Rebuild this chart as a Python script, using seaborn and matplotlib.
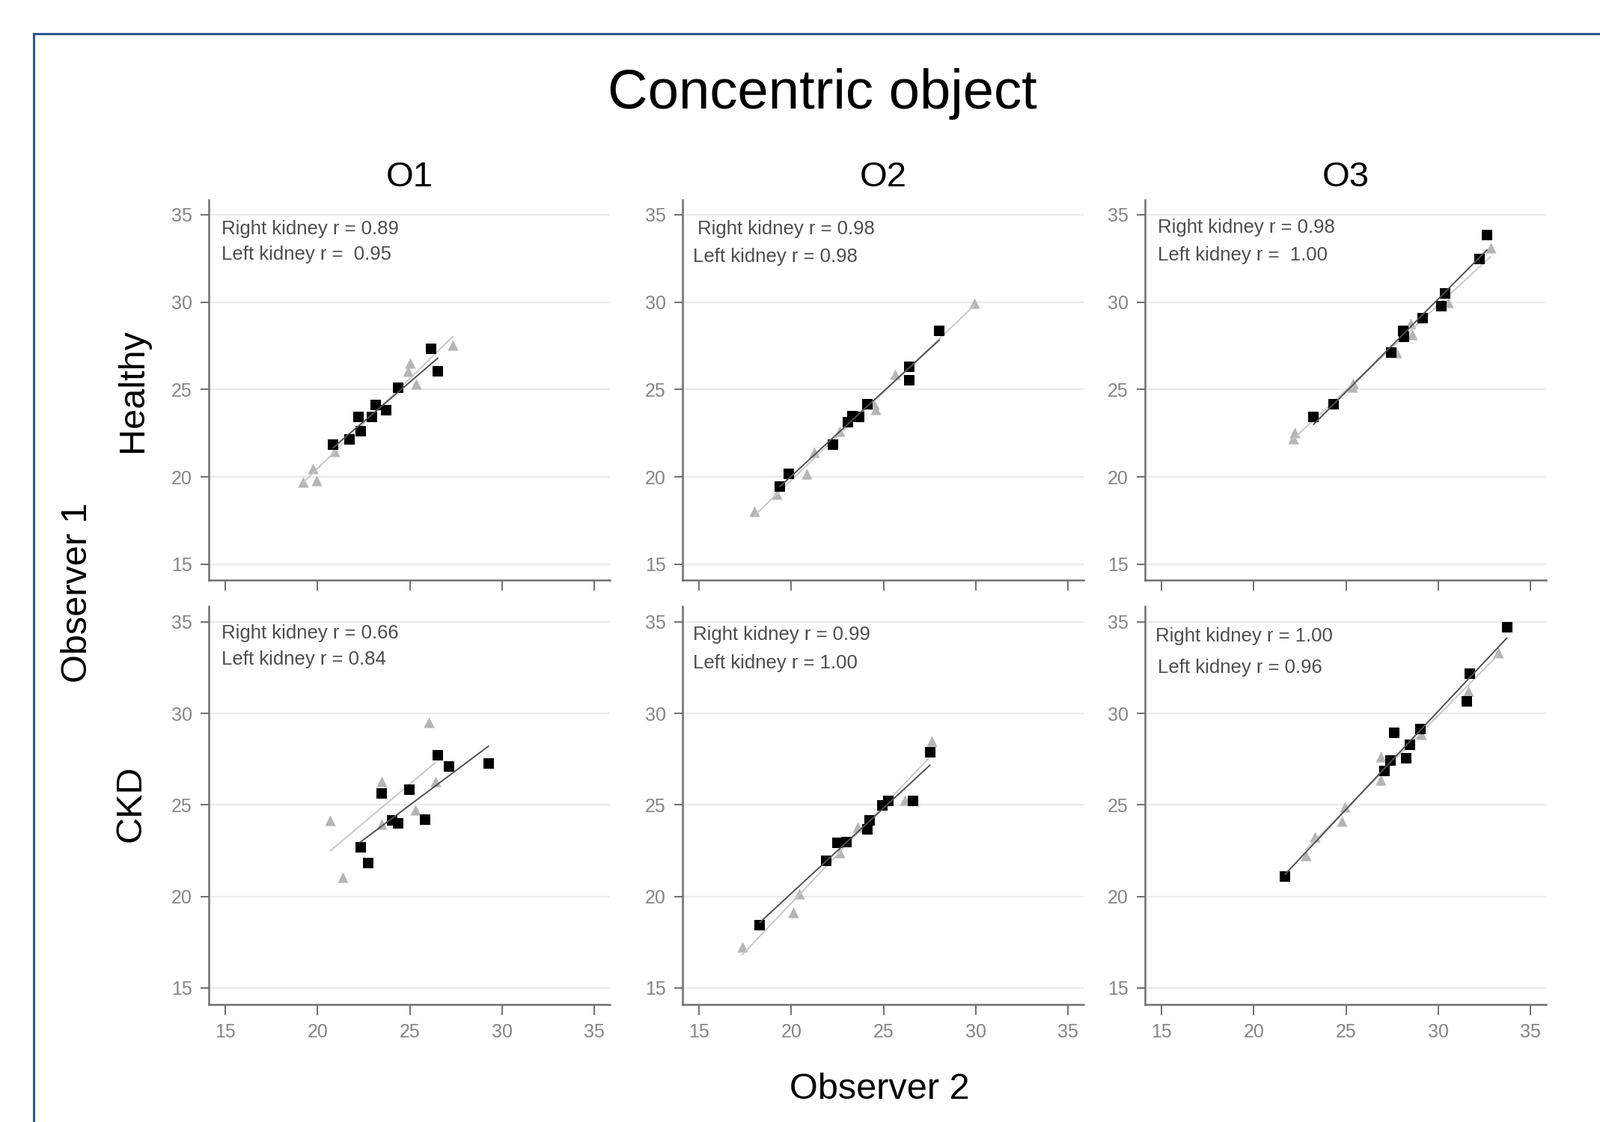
import matplotlib
matplotlib.use("Agg")
import matplotlib.pyplot as plt
import matplotlib.patches as mpatches
import seaborn as sns

# --- data: x = Observer 2, y = Observer 1 ---
# squares = right kidney (black), triangles = left kidney (grey)
GROUPS = ["Healthy", "CKD"]
OBSERVERS = ["O1", "O2", "O3"]

H1_RIGHT_X = [20.83, 21.74, 22.21, 22.32, 22.96, 23.15, 23.73, 24.35, 26.17, 26.52]
H1_RIGHT_Y = [21.83, 22.15, 23.42, 22.60, 23.42, 24.10, 23.83, 25.09, 27.33, 26.03]
H1_LEFT_X = [19.23, 19.74, 19.93, 20.90, 24.89, 25.00, 25.33, 27.33]
H1_LEFT_Y = [19.73, 20.46, 19.80, 21.47, 26.03, 26.53, 25.30, 27.55]

H2_RIGHT_X = [19.38, 19.87, 22.25, 23.07, 23.33, 23.67, 24.11, 26.39, 26.39, 28.02]
H2_RIGHT_Y = [19.44, 20.17, 21.86, 23.13, 23.49, 23.42, 24.18, 26.32, 25.52, 28.34]
H2_LEFT_X = [18.01, 19.22, 20.85, 21.24, 22.63, 24.57, 24.50, 25.61, 29.93]
H2_LEFT_Y = [18.04, 19.01, 20.17, 21.40, 22.63, 23.86, 24.15, 25.88, 29.93]

H3_RIGHT_X = [23.24, 24.33, 27.43, 28.09, 28.12, 29.16, 30.17, 30.36, 32.25, 32.65]
H3_RIGHT_Y = [23.42, 24.18, 27.11, 28.34, 28.02, 29.07, 29.79, 30.48, 32.47, 33.84]
H3_LEFT_X = [22.12, 22.20, 25.32, 25.40, 27.72, 28.52, 28.60, 30.52, 32.84]
H3_LEFT_Y = [22.19, 22.55, 25.16, 25.38, 27.11, 28.78, 28.13, 30.00, 33.12]

C1_RIGHT_X = [22.32, 22.74, 23.47, 24.06, 24.35, 24.96, 25.83, 26.52, 27.14, 29.27]
C1_RIGHT_Y = [22.67, 21.83, 25.63, 24.17, 24.01, 25.83, 24.20, 27.70, 27.11, 27.27]
C1_LEFT_X = [20.69, 21.38, 23.47, 23.47, 25.28, 26.05, 26.41]
C1_LEFT_Y = [24.17, 21.03, 26.30, 23.96, 24.74, 29.50, 26.30]

C2_RIGHT_X = [18.29, 21.90, 22.48, 22.98, 24.11, 24.23, 24.93, 25.27, 26.59, 27.52]
C2_RIGHT_Y = [18.43, 21.94, 22.95, 22.98, 23.65, 24.17, 24.98, 25.21, 25.21, 27.86]
C2_LEFT_X = [17.33, 20.12, 20.43, 22.63, 23.60, 26.17, 27.60]
C2_LEFT_Y = [17.26, 19.13, 20.14, 22.40, 23.80, 25.26, 28.48]

C3_RIGHT_X = [21.69, 27.08, 27.40, 27.61, 28.28, 28.47, 29.03, 31.56, 31.72, 33.72]
C3_RIGHT_Y = [21.08, 26.85, 27.44, 28.95, 27.55, 28.28, 29.14, 30.64, 32.18, 34.69]
C3_LEFT_X = [22.81, 23.32, 24.76, 24.92, 26.87, 26.87, 29.08, 31.64, 33.24]
C3_LEFT_Y = [22.25, 23.26, 24.12, 24.90, 26.35, 27.63, 28.87, 31.21, 33.32]

RIGHT_R = [["0.89", "0.98", "0.98"], ["0.66", "0.99", "1.00"]]
LEFT_R = [["=  0.95", "= 0.98", "=  1.00"], ["= 0.84", "= 1.00", "= 0.96"]]

TICKS = [15, 20, 25, 30, 35]

PANELS = [
    [(H1_RIGHT_X, H1_RIGHT_Y, H1_LEFT_X, H1_LEFT_Y),
     (H2_RIGHT_X, H2_RIGHT_Y, H2_LEFT_X, H2_LEFT_Y),
     (H3_RIGHT_X, H3_RIGHT_Y, H3_LEFT_X, H3_LEFT_Y)],
    [(C1_RIGHT_X, C1_RIGHT_Y, C1_LEFT_X, C1_LEFT_Y),
     (C2_RIGHT_X, C2_RIGHT_Y, C2_LEFT_X, C2_LEFT_Y),
     (C3_RIGHT_X, C3_RIGHT_Y, C3_LEFT_X, C3_LEFT_Y)],
]

# --- layout (pixels of a 2138 x 1499 canvas) ---
W, H = 2138, 1499
COL_LEFT = [279, 912, 1530]
COL_W = 536
ROW_TOP = [267, 810]
ROW_H = [508, 532]
# annotation positions (axes fraction): (x1, y1, x2, y2)
TEXT_POS = [
    [(0.031, 0.924, 0.031, 0.857), (0.037, 0.924, 0.027, 0.851), (0.032, 0.927, 0.032, 0.855)],
    [(0.031, 0.932, 0.031, 0.866), (0.027, 0.928, 0.027, 0.858), (0.027, 0.924, 0.032, 0.845)],
]

sns.set_theme(style="white")
plt.rcParams["font.family"] = ["Liberation Sans", "DejaVu Sans"]

SPINE = "#707070"
TICKLAB = "#858585"
GRID = "#ebebeb"
GREY_PT = "#b5b5b5"

fig = plt.figure(figsize=(W / 100, H / 100), dpi=100)
fig.patch.set_facecolor("white")

for r in range(2):
    for c in range(3):
        rx, ry, lx, ly = PANELS[r][c]
        ax = fig.add_axes([COL_LEFT[c] / W, 1 - (ROW_TOP[r] + ROW_H[r]) / H,
                           COL_W / W, ROW_H[r] / H])
        for y in TICKS:
            ax.axhline(y, color=GRID, lw=1.6, zorder=0)

        sns.scatterplot(x=lx, y=ly, ax=ax, marker="^", s=105, color=GREY_PT,
                        linewidth=0, zorder=2)
        sns.regplot(x=lx, y=ly, ax=ax, ci=None, scatter=False, truncate=True,
                    line_kws=dict(color="#c8c8c8", lw=1.4, zorder=3))
        sns.scatterplot(x=rx, y=ry, ax=ax, marker="s", s=100, color="black",
                        linewidth=0, zorder=4)
        sns.regplot(x=rx, y=ry, ax=ax, ci=None, scatter=False, truncate=True,
                    line_kws=dict(color="#505050", lw=1.4, zorder=5))

        ax.set_xlim(14.1, 35.85)
        ax.set_ylim(14.1, 35.85)
        ax.set_xticks(TICKS)
        ax.set_yticks(TICKS)
        ax.set_xlabel("")
        ax.set_ylabel("")
        for side in ["top", "right"]:
            ax.spines[side].set_visible(False)
        for side in ["left", "bottom"]:
            ax.spines[side].set_color(SPINE)
            ax.spines[side].set_linewidth(1.8)
        ax.tick_params(axis="x", direction="out", length=10, width=1.4, color=SPINE,
                       labelsize=18, labelcolor=TICKLAB, pad=8, bottom=True,
                       labelbottom=(r == 1))
        ax.tick_params(axis="y", direction="out", length=8, width=1.4, color=SPINE,
                       labelsize=18, labelcolor=TICKLAB, pad=8, left=True)

        x1, y1, x2, y2 = TEXT_POS[r][c]
        ax.text(x1, y1, f"Right kidney r = {RIGHT_R[r][c]}", transform=ax.transAxes,
                fontsize=18.5, color="#4d4d4d", va="center", ha="left")
        ax.text(x2, y2, f"Left kidney r {LEFT_R[r][c]}", transform=ax.transAxes,
                fontsize=18.5, color="#4d4d4d", va="center", ha="left")

# titles and labels
fig.text(1099 / W, 1 - 145 / H, "Concentric object", fontsize=53.5,
         ha="center", va="baseline", color="black")
for c, name in enumerate(OBSERVERS):
    fig.text((COL_LEFT[c] + COL_W / 2) / W, 1 - 249 / H, name, fontsize=34,
             ha="center", va="baseline", color="black")
fig.text(177 / W, 1 - 522 / H, GROUPS[0], fontsize=35, rotation=90,
         ha="center", va="center", color="black")
fig.text(175 / W, 1 - 1074 / H, GROUPS[1], fontsize=35, rotation=90,
         ha="center", va="center", color="black")
fig.text(104 / W, 1 - 792 / H, "Observer 1", fontsize=35, rotation=90,
         ha="center", va="center", color="black")
fig.text(1175 / W, 1 - 1468 / H, "Observer 2", fontsize=35,
         ha="center", va="baseline", color="black")

# blue frame (top and left edges visible in the crop)
frame = mpatches.Rectangle((45 / W, -0.05), 1.2, 1 - 45 / H + 0.05,
                           transform=fig.transFigure, fill=False,
                           edgecolor="#34568B", linewidth=2.2)
fig.add_artist(frame)

fig.savefig("out.png", dpi=100, facecolor="white")
